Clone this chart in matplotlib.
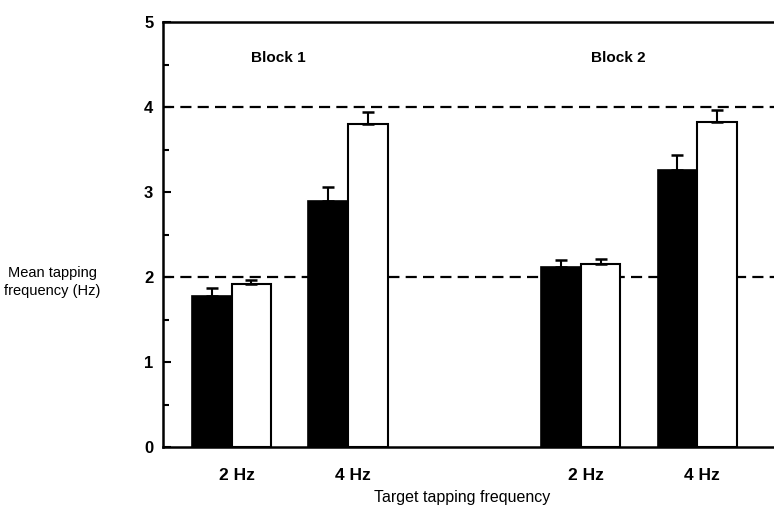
import matplotlib
matplotlib.use("Agg")
import matplotlib.pyplot as plt
import matplotlib.transforms as mtransforms
import numpy as np

plt.rcParams["font.family"] = ["Liberation Sans", "DejaVu Sans"]

# ---------------------------------------------------------------------------
# Data
# ---------------------------------------------------------------------------
tick_labels = ["2 Hz", "4 Hz", "2 Hz", "4 Hz"]
group_pos = [1, 2, 4, 5]
black_means = [1.78, 2.89, 2.12, 3.26]
black_err = [0.09, 0.17, 0.08, 0.18]
white_means = [1.92, 3.80, 2.15, 3.82]
white_err = [0.04, 0.14, 0.06, 0.15]
target_lines = [2, 4]
block_labels = ["Block 1", "Block 2"]
block_x = [1.40, 4.32]
block_y = 4.58

# ---------------------------------------------------------------------------
# Figure
# ---------------------------------------------------------------------------
fig = plt.figure(figsize=(7.74, 5.07), dpi=100)
ax = fig.add_axes([0.2106, 0.1183, 0.7894, 0.8383])

w = 0.34
x = np.array(group_pos, dtype=float)

for yv in target_lines:
    ax.axhline(yv, color="black", lw=1.6, ls=(0, (5, 2.8)), zorder=1)

ax.bar(x - w / 2, black_means, w, color="black", edgecolor="black",
       lw=1.2, zorder=3)
ax.bar(x + w / 2, white_means, w, color="white", edgecolor="black",
       lw=1.5, zorder=3)

zeros = np.zeros(len(x))
ax.errorbar(x - w / 2, black_means, yerr=[zeros, black_err], fmt="none",
            ecolor="black", elinewidth=1.5, capsize=4, capthick=1.8, zorder=4)
ax.errorbar(x + w / 2, white_means, yerr=[zeros, white_err], fmt="none",
            ecolor="black", elinewidth=1.5, capsize=4, capthick=1.8, zorder=4)

for lab, bx in zip(block_labels, block_x):
    ax.text(bx, block_y, lab, ha="center", va="center", fontsize=11,
            fontweight="bold")

ax.set_xlim(0.41, 5.66)
ax.set_ylim(0, 5)
ax.set_yticks([0, 1, 2, 3, 4, 5])
ax.set_yticks(np.arange(0.5, 5, 1.0), minor=True)
ax.tick_params(axis="y", which="major", direction="in", length=6, width=1.5,
               pad=7, labelsize=12)
ax.tick_params(axis="y", which="minor", direction="in", length=4, width=1.5)
ax.set_xticks(x)
ax.set_xticklabels(tick_labels, fontsize=12.5, fontweight="bold")
ax.tick_params(axis="x", length=0, pad=15)
# tick labels in the original sit a little right of the group centres
shift = mtransforms.ScaledTranslation(5 / 100, 0, fig.dpi_scale_trans)
for t in ax.get_xticklabels():
    t.set_transform(t.get_transform() + shift)
for t in ax.get_yticklabels():
    t.set_fontweight("bold")

for side in ["left", "bottom", "top"]:
    ax.spines[side].set_linewidth(1.8)
ax.spines["right"].set_visible(False)

ax.set_xlabel("Target tapping frequency", fontsize=11.5, labelpad=3)
ax.xaxis.set_label_coords(0.49, -0.102)
fig.text(52 / 774, 1 - 282 / 507, "Mean tapping\nfrequency (Hz)",
         ha="center", va="center", fontsize=10.5, linespacing=1.3)

fig.savefig("out.png", dpi=100)
